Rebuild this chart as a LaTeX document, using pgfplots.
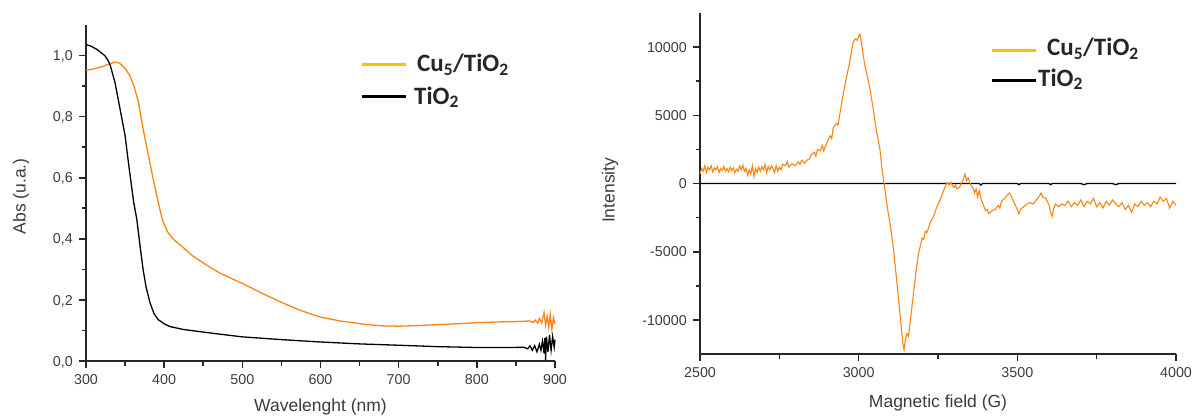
\documentclass[border=0pt]{standalone}
\usepackage{fontspec}
\setmainfont{Liberation Sans}
\newfontfamily\legfont{Carlito}
\usepackage{pgfplots}
\pgfplotsset{compat=1.18}
\definecolor{curveor}{HTML}{FF8412}
\definecolor{legyel}{HTML}{FFC000}
\definecolor{axcol}{HTML}{262626}
\definecolor{labcol}{HTML}{3C3C3C}

\tikzset{tk/.style={draw=axcol, line width=1.6pt}}
\pgfplotsset{
  panel/.style={
    scale only axis, anchor=south west, clip=false,
    axis lines=left,
    axis line style={draw=axcol, line width=1.3pt, -},
    major tick length=0pt, minor tick length=0pt,
    /pgf/number format/assume math mode=true,
    tick label style={font=\fontsize{14.3}{16}\selectfont, text=labcol, inner sep=0pt},
    xticklabel style={anchor=base, yshift=-23pt},
    yticklabel style={anchor=base east, xshift=-13pt, yshift=-5.1pt},
    label style={font=\fontsize{17.5}{20}\selectfont, text=labcol},
    xlabel style={at={(axis description cs:0.5,0)}, anchor=base},
    ylabel style={anchor=center},
  }
}

\begin{document}
\begin{tikzpicture}
\path[use as bounding box] (0,0) rectangle (1192pt,416pt);

% UV-vis absorbance
\begin{axis}[panel,
  at={(86pt,55pt)}, width=469pt, height=336pt,
  xmin=300, xmax=900, ymin=0, ymax=1.1,
  xtick={300,400,500,600,700,800,900},
  ytick={0,0.2,0.4,0.6,0.8,1.0},
  yticklabel style={/pgf/number format/.cd, fixed, fixed zerofill, precision=1, use comma},
  xlabel={Wavelenght (nm)}, xlabel style={yshift=-50pt},
  ylabel={Abs (u.a.)}, ylabel style={at={(axis description cs:-0.1386,0.49)}},
]
\pgfplotsinvokeforeach{300,400,500,600,700,800,900}{\draw[tk] (axis cs:#1,0) -- ([yshift=-7pt]axis cs:#1,0);}
\pgfplotsinvokeforeach{350,450,550,650,750,850}{\draw[tk] (axis cs:#1,0) -- ([yshift=-4.5pt]axis cs:#1,0);}
\pgfplotsinvokeforeach{0,0.2,0.4,0.6,0.8,1.0}{\draw[tk] (axis cs:300,#1) -- ([xshift=-7pt]axis cs:300,#1);}
\pgfplotsinvokeforeach{0.1,0.3,0.5,0.7,0.9}{\draw[tk] (axis cs:300,#1) -- ([xshift=-4.5pt]axis cs:300,#1);}
\addplot[curveor, line width=1.3pt] coordinates {
 (300,0.952)(305,0.954)(310,0.956)(315,0.960)(320,0.963)(325,0.968)(330,0.972)(337,0.979)
 (343,0.975)(350,0.958)(356,0.935)(362,0.895)(367,0.848)(373,0.760)(380,0.672)(386,0.595)
 (392,0.525)(396,0.480)(399,0.453)(405,0.420)(412,0.398)(425,0.370)(437,0.343)(455,0.313)
 (471,0.288)(500,0.254)(525,0.222)(550,0.192)(575,0.165)(598,0.145)(625,0.131)(657,0.120)
 (680,0.115)(701,0.114)(725,0.116)(750,0.119)(775,0.122)(804,0.126)(830,0.128)(850,0.129)
 (868,0.131)(872,0.126)(875,0.134)(878,0.124)(880,0.140)(883,0.125)(886,0.158)(888,0.118)
 (890,0.146)(892,0.110)(894,0.152)(896,0.104)(898,0.142)(900,0.120)
};
\addplot[black, line width=1.3pt] coordinates {
 (300,1.036)(307,1.030)(314,1.020)(320,1.008)(324,1.000)(328,0.985)(331,0.968)(337,0.913)
 (343.5,0.826)(350,0.738)(355,0.635)(361,0.520)(365,0.464)(369,0.380)(373,0.300)(377,0.240)
 (382,0.190)(387,0.155)(392.5,0.135)(400,0.122)(407,0.113)(425,0.103)(446,0.096)(471,0.088)
 (500,0.079)(550,0.070)(598,0.0625)(650,0.056)(701,0.0515)(750,0.047)(804,0.044)(840,0.044)
 (860,0.045)(865,0.040)(868,0.050)(871,0.035)(874,0.050)(877,0.030)(880,0.055)(882,0.035)
 (884,0.065)(886,0.025)(887,0.075)(888,0.003)(889,0.080)(891,0.030)(893,0.085)(895,0.035)
 (897,0.080)(899,0.045)(900,0.070)
};
\end{axis}

% EPR spectrum
\begin{axis}[panel,
  at={(700pt,62pt)}, width=476pt, height=341pt,
  xmin=2500, xmax=4000, ymin=-12500, ymax=12500,
  xtick={2500,3000,3500,4000},
  ytick={-10000,-5000,0,5000,10000},
  scaled y ticks=false, /pgf/number format/1000 sep={},
  xlabel={Magnetic field (G)}, xlabel style={yshift=-53pt},
  ylabel={Intensity}, ylabel style={at={(axis description cs:-0.189,0.48)}},
]
\pgfplotsinvokeforeach{2500,3000,3500,4000}{\draw[tk] (axis cs:#1,-12500) -- ([yshift=-7pt]axis cs:#1,-12500);}
\pgfplotsinvokeforeach{2750,3250,3750}{\draw[tk] (axis cs:#1,-12500) -- ([yshift=-4.5pt]axis cs:#1,-12500);}
\pgfplotsinvokeforeach{-10000,-5000,0,5000,10000}{\draw[tk] (axis cs:2500,#1) -- ([xshift=-7pt]axis cs:2500,#1);}
\pgfplotsinvokeforeach{-7500,-2500,2500,7500}{\draw[tk] (axis cs:2500,#1) -- ([xshift=-4.5pt]axis cs:2500,#1);}
\addplot[black, line width=1.3pt] coordinates {
 (2500,0)(3380,0)(3385,-120)(3390,0)(3500,0)(3505,-90)(3510,0)(3600,0)(3605,-90)(3610,0)
 (3700,0)(3710,-90)(3720,0)(3800,0)(3810,-90)(3820,0)(4000,0)
};
\addplot[curveor, line width=1.1pt] coordinates {
 (2500,700)(2505,1100)(2510,900)(2515,1300)(2520,800)(2525,1200)(2530,1000)(2535,1300)
 (2540,850)(2545,1150)(2550,1000)(2555,1250)(2560,800)(2565,1100)(2570,950)(2575,1250)
 (2580,900)(2585,1100)(2590,850)(2595,1200)(2600,950)(2605,1150)(2610,800)(2615,1050)
 (2620,900)(2625,1300)(2630,1000)(2635,1350)(2640,900)(2645,1100)(2650,600)(2655,1000)
 (2660,700)(2665,1300)(2670,500)(2675,1100)(2680,800)(2685,1200)(2690,900)(2695,1250)
 (2700,1000)(2705,1400)(2710,800)(2715,1250)(2720,1000)(2725,1300)(2730,1100)(2735,800)
 (2740,1300)(2745,900)(2750,1200)(2755,1000)(2760,1400)(2770,1300)(2775,1600)(2780,1200)
 (2790,1450)(2800,1300)(2810,1600)(2815,1400)(2820,1700)(2830,1500)(2836,1700)(2845,1800)
 (2850,2100)(2860,2300)(2865,2000)(2870,2500)(2880,2400)(2885,2800)(2890,2400)(2900,3000)
 (2910,3500)(2915,3300)(2920,4100)(2930,4400)(2935,4300)(2940,5000)(2952,6660)(2960,7600)
 (2970,8700)(2983,10400)(2990,10600)(2995,10500)(3000,10800)(3004,10950)(3010,10100)
 (3015,9300)(3020,8600)(3025,8100)(3035,7000)(3045,5600)(3055,4000)(3067,2500)(3073,1200)
 (3080,0)(3090,-1700)(3100,-3100)(3110,-4850)(3118,-6700)(3126,-8530)(3134,-10500)
 (3139,-11700)(3143,-12200)(3148,-11300)(3152,-11000)(3157,-11200)(3165,-9600)(3173,-8010)
 (3180,-6600)(3188,-5200)(3194,-4610)(3200,-4000)(3205,-4100)(3210,-3500)(3215,-3600)
 (3225,-2900)(3236,-2400)(3245,-1800)(3257,-1180)(3268,-500)(3278,70)(3285,-100)
 (3290,100)(3300,-300)(3305,-100)(3310,-400)(3320,-200)(3325,100)(3330,300)(3335,700)
 (3340,200)(3345,400)(3350,100)(3355,-200)(3360,-300)(3365,-700)(3370,-400)(3375,-1000)
 (3380,-500)(3385,-1100)(3390,-1400)(3395,-1700)(3400,-2000)(3405,-1900)(3410,-2200)
 (3420,-2000)(3430,-1900)(3440,-1600)(3445,-1800)(3450,-1300)(3460,-1100)(3470,-800)
 (3475,-700)(3480,-900)(3490,-1400)(3500,-1900)(3505,-2200)(3510,-1900)(3520,-1700)
 (3530,-1500)(3540,-1400)(3550,-1500)(3560,-1200)(3570,-900)(3575,-700)(3580,-1000)
 (3590,-1100)(3600,-1600)(3605,-2100)(3610,-2400)(3615,-1800)(3620,-1500)(3630,-1700)
 (3640,-1500)(3650,-1600)(3660,-1300)(3670,-1700)(3680,-1400)(3690,-1600)(3700,-1200)
 (3710,-1700)(3720,-1300)(3730,-1500)(3740,-1100)(3750,-1700)(3760,-1400)(3770,-1800)
 (3780,-1300)(3790,-1600)(3800,-1200)(3810,-1500)(3820,-1700)(3830,-1400)(3840,-1900)
 (3850,-1600)(3860,-2100)(3870,-1500)(3880,-1700)(3890,-1300)(3900,-1600)(3910,-1400)
 (3920,-1700)(3930,-1300)(3940,-1500)(3950,-1000)(3960,-1300)(3970,-1100)(3980,-1800)
 (3990,-1300)(4000,-1600)
};
\end{axis}

% hand-placed legends
\begin{scope}[every node/.style={font=\legfont\bfseries\fontsize{25}{28}\selectfont, text=axcol, inner sep=0pt, anchor=base west}]
\draw[legyel, line width=3pt] (362pt,351pt) -- (406pt,351pt);
\draw[black, line width=3pt] (362pt,319pt) -- (406pt,319pt);
\node at (417pt,344pt) {Cu\textsubscript{5}/TiO\textsubscript{2}};
\node at (414pt,312pt) {TiO\textsubscript{2}};
\draw[legyel, line width=3pt] (992pt,365pt) -- (1036pt,365pt);
\draw[black, line width=3pt] (992pt,335pt) -- (1036pt,335pt);
\node at (1047pt,360pt) {Cu\textsubscript{5}/TiO\textsubscript{2}};
\node at (1038pt,330pt) {TiO\textsubscript{2}};
\end{scope}
\end{tikzpicture}
\end{document}
